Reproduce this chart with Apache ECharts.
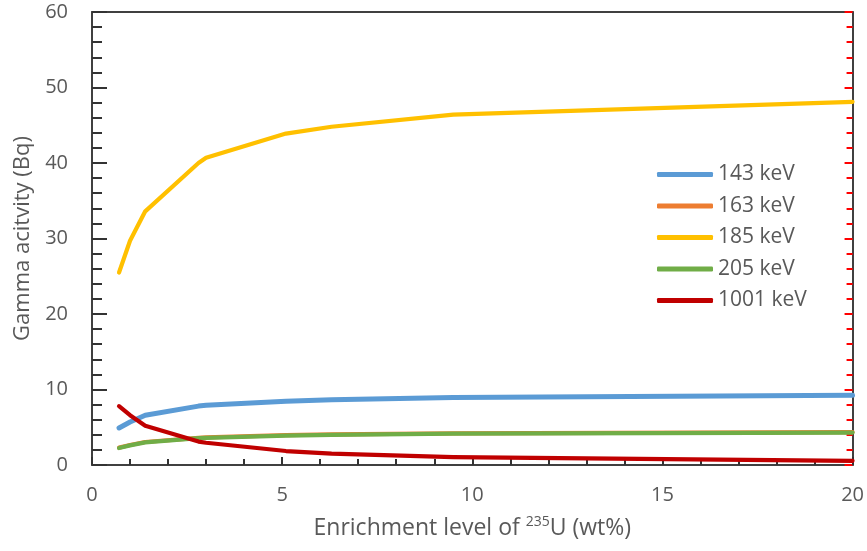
<!DOCTYPE html>
<html>
<head>
<meta charset="utf-8">
<script src="https://cdn.jsdelivr.net/npm/echarts@6/dist/echarts.min.js"></script>
<style>html,body{margin:0;padding:0;background:#fff}#c{width:867px;height:551px}</style>
</head>
<body>
<div id="c"></div>
<script>
const enrichment = [0.711, 1, 1.4, 2.8, 3, 5.1, 6.3, 9.5, 20];
const names = ['143 keV', '163 keV', '185 keV', '205 keV', '1001 keV'];
const kev143 = [4.9, 5.7, 6.6, 7.8, 7.9, 8.45, 8.65, 8.95, 9.25];
const kev163 = [2.3, 2.65, 3.05, 3.6, 3.65, 3.95, 4.05, 4.2, 4.35];
const kev185 = [25.5, 29.7, 33.6, 40.0, 40.7, 43.9, 44.8, 46.4, 48.1];
const kev205 = [2.25, 2.6, 3.0, 3.55, 3.6, 3.9, 4.0, 4.15, 4.3];
const kev1001 = [7.8, 6.6, 5.2, 3.1, 2.95, 1.85, 1.5, 1.05, 0.55];
const colors = ['#5B9BD5', '#ED7D31', '#FFC000', '#70AD47', '#C00000'];
const widths = [5, 4.2, 4.2, 4.2, 4.2];
const allSeries = [kev143, kev163, kev185, kev205, kev1001];

const textColor = '#595959';
const axisColor = '#404040';
const font = 'Open Sans, Lato, sans-serif';

const chart = echarts.init(document.getElementById('c'));
chart.setOption({
  animation: false,
  textStyle: { fontFamily: font },
  grid: { left: 92, right: 14, top: 12, bottom: 86 },
  legend: {
    orient: 'vertical', left: 652, top: 159,
    itemWidth: 56, itemHeight: 5, itemGap: 10.5,
    icon: 'roundRect',
    textStyle: { color: textColor, fontSize: 21, fontFamily: font },
    data: names
  },
  xAxis: [{
    type: 'value', min: 0, max: 20, interval: 5, position: 'bottom',
    axisLine: { show: true, onZero: false, lineStyle: { color: axisColor, width: 2 } },
    axisTick: { show: true, inside: true, length: 8, lineStyle: { color: '#333333', width: 2 } },
    minorTick: { show: true, splitNumber: 5, length: 6, lineStyle: { color: '#333333', width: 2 } },
    splitLine: { show: false },
    axisLabel: { color: textColor, fontSize: 20, margin: 20 },
    name: 'Enrichment level of {sup|235}U (wt%)',
    nameLocation: 'middle', nameGap: 50,
    nameTextStyle: {
      color: textColor, fontSize: 23,
      rich: { sup: { fontSize: 14, verticalAlign: 'top', padding: [0, 0, 12, 0], color: textColor } }
    }
  }, {
    type: 'value', min: 0, max: 20, interval: 5, position: 'top',
    axisLine: { show: true, onZero: false, lineStyle: { color: axisColor, width: 2 } },
    axisTick: { show: false }, axisLabel: { show: false }, splitLine: { show: false }
  }],
  yAxis: [{
    type: 'value', min: 0, max: 60, interval: 10, position: 'left',
    axisLine: { show: true, onZero: false, lineStyle: { color: axisColor, width: 2 } },
    axisTick: { show: true, inside: true, length: 15, lineStyle: { color: '#333333', width: 2 } },
    minorTick: { show: true, splitNumber: 5, length: 10, lineStyle: { color: '#333333', width: 2 } },
    splitLine: { show: false },
    axisLabel: { color: textColor, fontSize: 20, margin: 24 },
    name: 'Gamma acitvity (Bq)',
    nameLocation: 'middle', nameGap: 57,
    nameTextStyle: { color: textColor, fontSize: 22 }
  }, {
    type: 'value', min: 0, max: 60, interval: 10, position: 'right',
    axisLine: { show: true, onZero: false, lineStyle: { color: axisColor, width: 2 } },
    axisTick: { show: true, inside: true, length: 8, lineStyle: { color: '#ff0000', width: 2 } },
    minorTick: { show: true, splitNumber: 5, length: 6, lineStyle: { color: '#ff0000', width: 2 } },
    splitLine: { show: false },
    axisLabel: { show: false }
  }],
  series: allSeries.map((vals, i) => ({
    name: names[i],
    type: 'line',
    symbol: 'none',
    xAxisIndex: 0, yAxisIndex: 0,
    data: enrichment.map((x, j) => [x, vals[j]]),
    lineStyle: { color: colors[i], width: widths[i], cap: 'round', join: 'round' },
    itemStyle: { color: colors[i] }
  }))
});
</script>
</body>
</html>
